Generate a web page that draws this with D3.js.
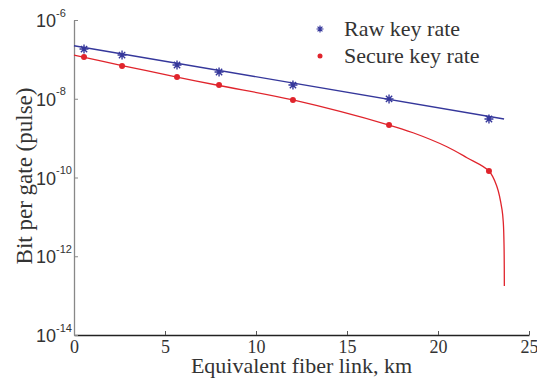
<!DOCTYPE html>
<html>
<head>
<script src="https://d3js.org/d3.v7.min.js"></script>
<style>
  body { margin: 0; background: #fff; }
  svg { font-family: "Liberation Serif", "Times New Roman", serif; }
  .tick text { fill: #333; }
</style>
</head>
<body>
<script>
// measured points (km, bit per gate)
var distKm = [0.55, 2.64, 5.66, 7.97, 12.03, 17.31, 22.80];
var rawRate = [1.83e-7, 1.29e-7, 7.2e-8, 4.78e-8, 2.23e-8, 9.9e-9, 3.06e-9];
var secureRate = [1.15e-7, 6.8e-8, 3.56e-8, 2.23e-8, 9.3e-9, 2.15e-9, 1.46e-10];

// theory curves
var rawFitKm = [0, 23.63];
var rawFitRate = [2.22e-7, 3.06e-9];
var secureFitKm = [0, 2.64, 5.66, 7.97, 12.03, 17.31, 18.63, 20.49, 21.59, 22.80, 23.24, 23.52, 23.59, 23.63, 23.645];
var secureFitRate = [1.29e-7, 6.98e-8, 3.56e-8, 2.17e-8, 9.3e-9, 2.15e-9, 1.37e-9, 6.05e-10, 3.18e-10, 1.46e-10, 5.83e-11, 1.5e-11, 6.98e-12, 1.72e-12, 1.75e-13];

var xTicks = [0, 5, 10, 15, 20, 25];
var yTicks = [1e-14, 1e-12, 1e-10, 1e-8, 1e-6];
var legendLabels = ["Raw key rate", "Secure key rate"];

var blue = "#35379b", red = "#e0242c";

var svg = d3.select("body").append("svg")
  .attr("width", 537)
  .attr("height", 378);

var x = d3.scaleLinear().domain([0, 25]).range([74, 529]);
var y = d3.scaleLog().domain([1e-14, 1e-6]).range([335, 20]);

// axes
var gx = svg.append("g")
  .attr("transform", "translate(0,335)")
  .call(d3.axisBottom(x).tickValues(xTicks).tickSize(-4).tickSizeOuter(0).tickFormat(d3.format("d")));
gx.select(".domain").attr("stroke", "#222").attr("stroke-width", 1.3);
gx.selectAll(".tick line").attr("stroke", "#555");
gx.selectAll(".tick text")
  .attr("y", 18).attr("dy", 0)
  .style("font-size", "18px")
  .style("font-family", "Liberation Serif");

var gy = svg.append("g")
  .attr("transform", "translate(74,0)")
  .call(d3.axisLeft(y).tickValues(yTicks).tickSize(-4).tickSizeOuter(0).tickFormat(""));
gy.select(".domain").attr("stroke", "#888").attr("stroke-width", 1.3);
gy.selectAll(".tick line").attr("stroke", "#888");
gy.selectAll(".tick text").remove();
// "10" ends at a fixed spot, exponent follows it
gy.selectAll(".tick").each(function (d) {
  var tk = d3.select(this);
  tk.append("text")
    .attr("x", -18).attr("y", 6.5)
    .attr("text-anchor", "end")
    .attr("fill", "#333")
    .style("font-size", "18px")
    .text("10");
  tk.append("text")
    .attr("x", -18).attr("y", -4)
    .attr("text-anchor", "start")
    .attr("fill", "#333")
    .style("font-size", "11px")
    .text(String(Math.round(Math.log10(d))));
});

// axis titles
svg.append("text")
  .attr("x", 301.5).attr("y", 373)
  .attr("text-anchor", "middle")
  .attr("fill", "#333")
  .style("font-size", "22px")
  .text("Equivalent fiber link, km");

svg.append("text")
  .attr("transform", "translate(32,176) rotate(-90)")
  .attr("text-anchor", "middle")
  .attr("fill", "#333")
  .style("font-size", "23px")
  .text("Bit per gate (pulse)");

// curves
var line = d3.line()
  .x(function (d) { return x(d[0]); })
  .y(function (d) { return y(d[1]); });

svg.append("path")
  .datum(d3.zip(rawFitKm, rawFitRate))
  .attr("fill", "none").attr("stroke", blue).attr("stroke-width", 1.3)
  .attr("d", line);

svg.append("path")
  .datum(d3.zip(secureFitKm, secureFitRate))
  .attr("fill", "none").attr("stroke", red).attr("stroke-width", 1.3)
  .attr("d", line.curve(d3.curveCatmullRom.alpha(0.5)));

// asterisk marker
function star(r) {
  var a = r * 0.7;
  return "M" + (-r) + ",0L" + r + ",0M0," + (-r) + "L0," + r +
    "M" + (-a) + "," + (-a) + "L" + a + "," + a +
    "M" + (-a) + "," + a + "L" + a + "," + (-a);
}

svg.append("g").selectAll("path")
  .data(d3.zip(distKm, rawRate))
  .enter().append("path")
  .attr("transform", function (d) { return "translate(" + x(d[0]) + "," + y(d[1]) + ")"; })
  .attr("d", star(4.5))
  .attr("stroke", blue).attr("stroke-width", 1.4).attr("fill", "none");

svg.append("g").selectAll("circle")
  .data(d3.zip(distKm, secureRate))
  .enter().append("circle")
  .attr("cx", function (d) { return x(d[0]); })
  .attr("cy", function (d) { return y(d[1]); })
  .attr("r", 3)
  .attr("fill", red);

// legend
var legend = svg.append("g");
legend.append("path")
  .attr("transform", "translate(320,29)")
  .attr("d", star(3.5))
  .attr("stroke", blue).attr("stroke-width", 1.2).attr("fill", "none");
legend.append("circle")
  .attr("cx", 320).attr("cy", 56).attr("r", 2.5)
  .attr("fill", red);
legend.selectAll("text")
  .data(legendLabels)
  .enter().append("text")
  .attr("x", 344)
  .attr("y", function (d, i) { return 36 + i * 27; })
  .attr("fill", "#333")
  .style("font-size", "22px")
  .text(function (d) { return d; });
</script>
</body>
</html>
